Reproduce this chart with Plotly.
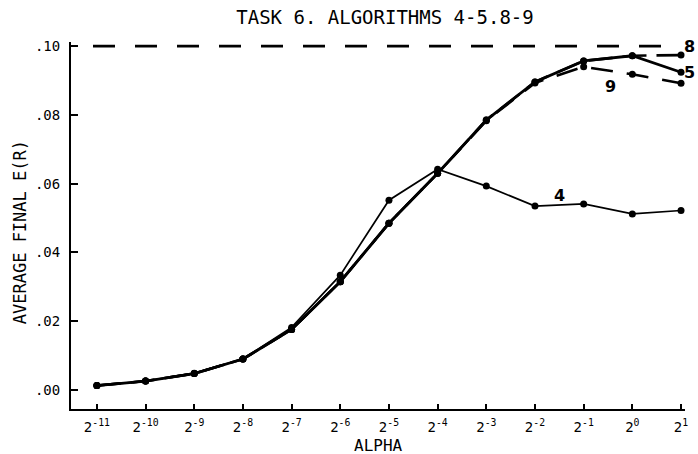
import plotly.graph_objects as go

# ---- data ----
alpha_exp = [-11, -10, -9, -8, -7, -6, -5, -4, -3, -2, -1, 0, 1]
alpha_labels = ["2<sup>-11</sup>", "2<sup>-10</sup>", "2<sup>-9</sup>", "2<sup>-8</sup>",
                "2<sup>-7</sup>", "2<sup>-6</sup>", "2<sup>-5</sup>", "2<sup>-4</sup>",
                "2<sup>-3</sup>", "2<sup>-2</sup>", "2<sup>-1</sup>", "2<sup>0</sup>",
                "2<sup>1</sup>"]
algo4 = [0.0013, 0.0026, 0.0049, 0.0090, 0.0182, 0.0334, 0.0552, 0.0642,
         0.0593, 0.0535, 0.0541, 0.0512, 0.0522]
algo5 = [0.0013, 0.0026, 0.0048, 0.0090, 0.0176, 0.0315, 0.0485, 0.0630,
         0.0785, 0.0896, 0.0957, 0.0972, 0.0924]
algo8 = [0.0013, 0.0026, 0.0048, 0.0090, 0.0176, 0.0315, 0.0485, 0.0630,
         0.0785, 0.0896, 0.0957, 0.0972, 0.0974]
algo9 = [0.0013, 0.0026, 0.0048, 0.0090, 0.0176, 0.0315, 0.0485, 0.0630,
         0.0783, 0.0893, 0.0940, 0.0918, 0.0892]
ref_level = 0.10
ref_x = [-11.08, 1.0]
y_ticks = [0.00, 0.02, 0.04, 0.06, 0.08, 0.10]
y_ticktext = [".00", ".02", ".04", ".06", ".08", ".10"]

W, H = 698, 454
L, R, T, B = 71, 10, 42, 45
plot_w = W - L - R
plot_h = H - T - B


def px(x):
    return (x - L) / plot_w


def py(y):
    return (H - B - y) / plot_h


mono = "DejaVu Sans Mono"
fig = go.Figure()

fig.add_trace(go.Scatter(x=ref_x, y=[ref_level] * len(ref_x), mode="lines",
                         line=dict(color="black", width=2.6, dash="22px,20px"),
                         showlegend=False, hoverinfo="skip"))
fig.add_trace(go.Scatter(x=alpha_exp, y=algo9, mode="lines+markers", name="9",
                         line=dict(color="black", width=2.6, dash="22px,14px"),
                         marker=dict(color="black", size=7), showlegend=False))
fig.add_trace(go.Scatter(x=alpha_exp, y=algo8, mode="lines+markers", name="8",
                         line=dict(color="black", width=2.6, dash="24px,10px"),
                         marker=dict(color="black", size=7), showlegend=False))
fig.add_trace(go.Scatter(x=alpha_exp, y=algo5, mode="lines+markers", name="5",
                         line=dict(color="black", width=2.8),
                         marker=dict(color="black", size=7), showlegend=False))
fig.add_trace(go.Scatter(x=alpha_exp, y=algo4, mode="lines+markers", name="4",
                         line=dict(color="black", width=1.7),
                         marker=dict(color="black", size=7), showlegend=False))

lab_font = dict(family="DejaVu Sans", size=16, color="black")
annotations = [
    dict(x=-1.49, y=0.0566, xref="x", yref="y", text="<b>4</b>", showarrow=False, font=lab_font),
    dict(x=-0.45, y=0.0884, xref="x", yref="y", text="<b>9</b>", showarrow=False, font=lab_font),
    dict(x=px(693), y=py(47), xref="paper", yref="paper", text="<b>8</b>", showarrow=False,
         xanchor="center", yanchor="middle", font=lab_font),
    dict(x=px(693), y=py(72), xref="paper", yref="paper", text="<b>5</b>", showarrow=False,
         xanchor="center", yanchor="middle", font=lab_font),
    dict(x=px(380), y=py(445), xref="paper", yref="paper", text="ALPHA", showarrow=False,
         xanchor="center", yanchor="middle",
         font=dict(family=mono, size=16, color="black")),
    dict(x=px(20), y=py(232), xref="paper", yref="paper", text="AVERAGE FINAL E(R)",
         showarrow=False, textangle=-90, xanchor="center", yanchor="middle",
         font=dict(family=mono, size=17, color="black")),
]

fig.update_layout(
    width=W, height=H,
    margin=dict(l=L, r=R, t=T, b=B),
    paper_bgcolor="white", plot_bgcolor="white",
    title=dict(text="TASK 6. ALGORITHMS 4-5.8-9", x=385 / W, xref="container", xanchor="center",
               y=1 - 17 / H, yref="container", yanchor="middle",
               font=dict(family=mono, size=19, color="black")),
    annotations=annotations,
    xaxis=dict(range=[-11.532, 1.082], tickvals=alpha_exp, ticktext=alpha_labels,
               showgrid=False, zeroline=False, showline=True, linecolor="black", linewidth=2,
               ticks="inside", ticklen=5, tickwidth=1.5, tickcolor="black",
               ticklabelstandoff=4,
               tickfont=dict(family=mono, size=14, color="black")),
    yaxis=dict(range=[-0.00552, 0.1012], tickvals=y_ticks, ticktext=y_ticktext,
               showgrid=False, zeroline=False, showline=True, linecolor="black", linewidth=2,
               ticks="inside", ticklen=7, tickwidth=1.5, tickcolor="black",
               ticklabelstandoff=6,
               tickfont=dict(family=mono, size=14, color="black")),
)

fig.write_html("out.html")
